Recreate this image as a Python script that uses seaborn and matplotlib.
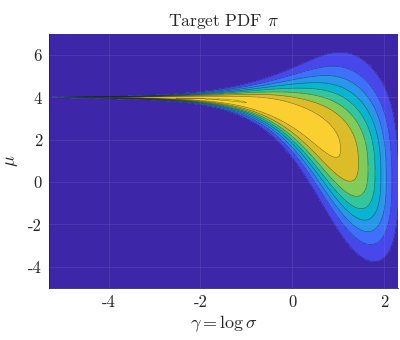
import numpy as np
import matplotlib
matplotlib.use("Agg")
import matplotlib.pyplot as plt
import seaborn as sns

# ---- chart data / parameters ----
GAMMA_RANGE = [np.log(0.005), np.log(10.0)]   # x limits (gamma = log sigma)
MU_RANGE = [-5.0, 7.0]                          # y limits
X_TICKS = [-4, -2, 0, 2]
Y_TICKS = [-4, -2, 0, 2, 4, 6]
X_TICK_LABELS = ["-4", "-2", "0", "2"]
Y_TICK_LABELS = ["-4", "-2", "0", "2", "4", "6"]
LEVEL_FRACTIONS = [k / 9.0 for k in range(1, 10)]   # 9 contour levels

# target density parameters
MU_DATA = 4.0        # ridge location for small sigma
SHIFT_MAX = 4.6      # total downward bend of the mode
SHIFT_SCALE = 4.26
SHIFT_POW = 1.5
SPREAD_MAX = 2.6
SPREAD_GAIN = 1.15
SKEW = 0.07
PLATEAU_DROP = 0.05
PLATEAU_K = 0.3
DECAY_B = 0.00417
DECAY_R = 2.7
SHAPE_Q = 2.5
REF_GAMMA = -1.0     # where the top level is reached on the ridge

PARULA10 = ["#3E26A8", "#4747EB", "#3E6FFF", "#2796EB", "#08B4D0",
            "#31C69F", "#80CC59", "#DCBD29", "#FCCF30", "#F9FB14"]


def log_height(g):
    s = np.exp(g)
    return (-PLATEAU_DROP * s**4 / (s**4 + PLATEAU_K)
            - DECAY_B * s**DECAY_R)


def target_pdf(g, m):
    s = np.exp(g)
    mode = MU_DATA - SHIFT_MAX * s**SHIFT_POW / (SHIFT_SCALE + s**SHIFT_POW)
    spread = SPREAD_MAX * np.tanh(SPREAD_GAIN * s / SPREAD_MAX)
    spread = np.where(m > mode, spread * (1 + SKEW), spread * (1 - SKEW))
    z = np.abs(m - mode) / spread
    return np.exp(log_height(g) - log_height(REF_GAMMA) - z**SHAPE_Q / SHAPE_Q)


gam = np.linspace(GAMMA_RANGE[0], GAMMA_RANGE[1], 400)
mu = np.linspace(MU_RANGE[0], MU_RANGE[1], 250)
G, M = np.meshgrid(gam, mu)
Z = target_pdf(G, M)

sns.set_theme(style="white")
plt.rcParams.update({
    "font.family": "serif",
    "font.serif": ["cmr10", "DejaVu Serif"],
    "mathtext.fontset": "cm",
    "axes.formatter.use_mathtext": True,
    "axes.unicode_minus": False,
})

palette = sns.color_palette(PARULA10)
fig = plt.figure(figsize=(4.0, 3.4), dpi=100)
ax = fig.add_axes([0.1225, 0.153, 0.8725, 0.747])
ax.set_facecolor(PARULA10[0])

levels = [0.0] + LEVEL_FRACTIONS + [max(Z.max(), 1.0) * 1.5]
ax.contourf(G, M, Z, levels=levels, colors=palette)
ax.contour(G, M, Z, levels=LEVEL_FRACTIONS, colors="k", linewidths=0.45, alpha=0.55)

ax.set_xlim(GAMMA_RANGE)
ax.set_ylim(MU_RANGE)
ax.set_xticks(X_TICKS)
ax.set_xticklabels(X_TICK_LABELS)
ax.set_yticks(Y_TICKS)
ax.set_yticklabels(Y_TICK_LABELS)
ax.tick_params(direction="in", length=3, width=0.5, labelsize=12, pad=5, colors="#262626")
ax.grid(True, color="#d0d0d0", alpha=0.12, linewidth=0.6)
ax.set_axisbelow(False)
for side in ["top", "right"]:
    ax.spines[side].set_visible(False)
for side in ["left", "bottom"]:
    ax.spines[side].set_color("#262626")
    ax.spines[side].set_linewidth(0.6)

ax.set_xlabel(r"$\gamma = \log\sigma$", fontsize=13, labelpad=2)
ax.set_ylabel(r"$\mu$", fontsize=13, labelpad=6)
ax.set_title(r"Target PDF $\pi$", fontsize=12.5, pad=6)

fig.savefig("out.png", dpi=100)
